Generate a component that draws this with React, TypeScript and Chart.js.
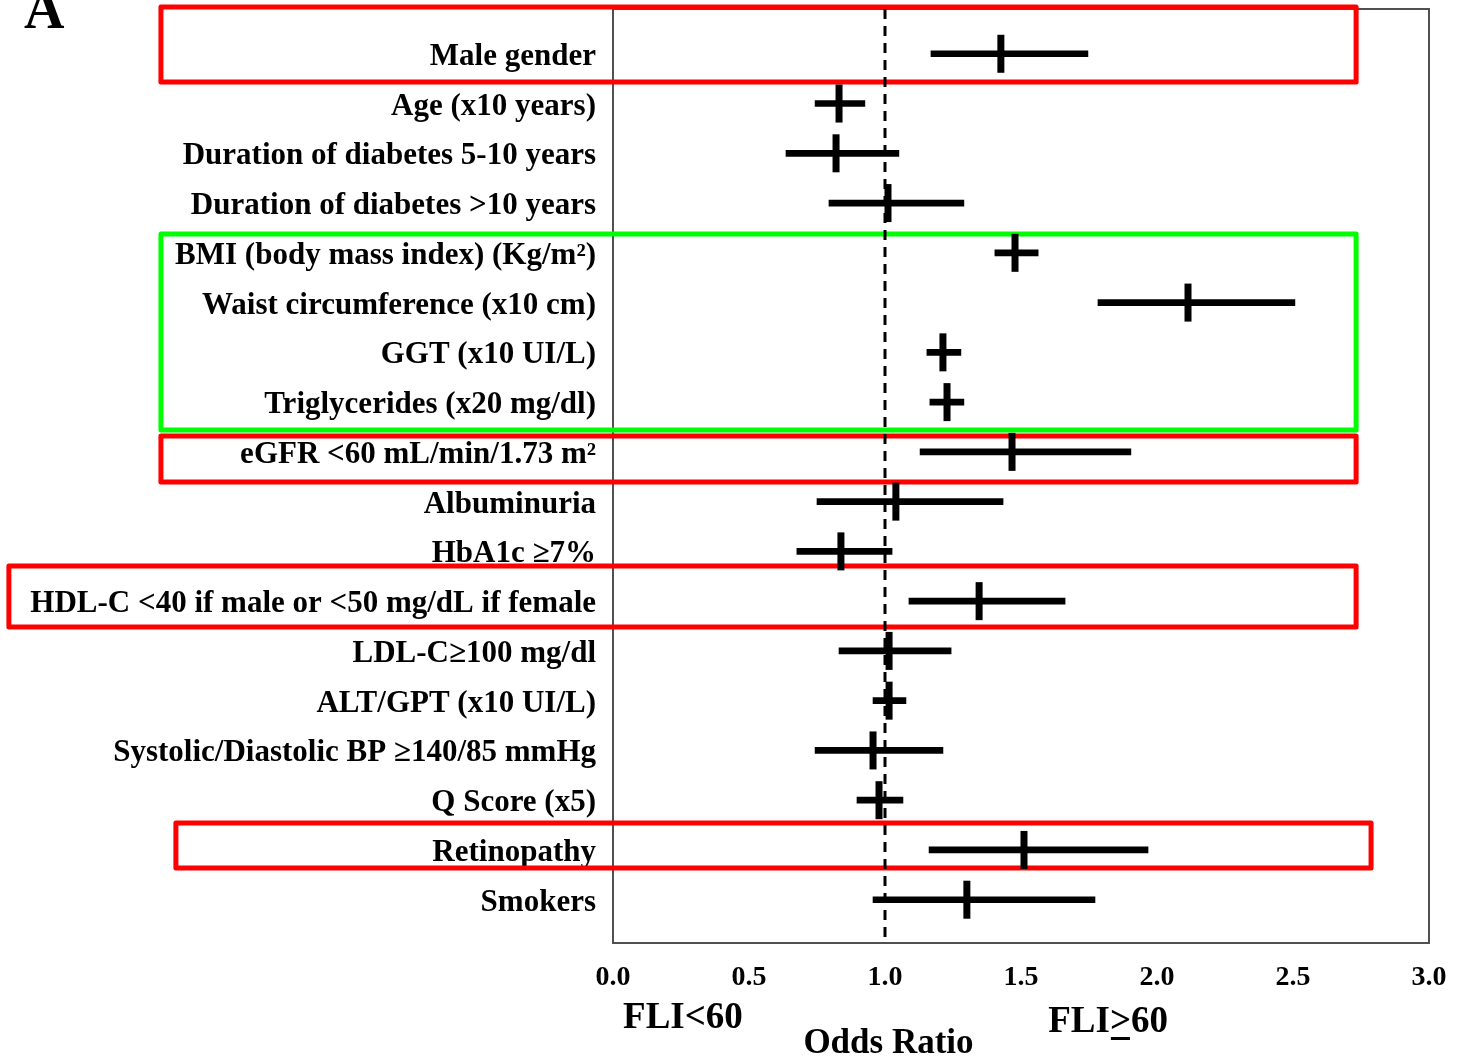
import React, { useEffect, useRef } from 'react';
import { Chart, registerables } from 'chart.js';

Chart.register(...registerables);

// ---- Data ----
const factorLabels = [
  'Male gender',
  'Age (x10 years)',
  'Duration of diabetes 5-10 years',
  'Duration of diabetes >10 years',
  'BMI (body mass index) (Kg/m²)',
  'Waist circumference (x10 cm)',
  'GGT (x10 UI/L)',
  'Triglycerides (x20 mg/dl)',
  'eGFR <60 mL/min/1.73 m²',
  'Albuminuria',
  'HbA1c ≥7%',
  'HDL-C <40 if male or <50 mg/dL if female',
  'LDL-C≥100 mg/dl',
  'ALT/GPT (x10 UI/L)',
  'Systolic/Diastolic BP ≥140/85 mmHg',
  'Q Score (x5)',
  'Retinopathy',
  'Smokers',
];

const oddsRatio = [1.426, 0.831, 0.82, 1.011, 1.478, 2.114, 1.213, 1.228, 1.467, 1.04, 0.838, 1.346, 1.015, 1.015, 0.956, 0.978, 1.511, 1.301];
const ciLower = [1.169, 0.743, 0.636, 0.794, 1.404, 1.783, 1.154, 1.165, 1.129, 0.75, 0.676, 1.088, 0.831, 0.956, 0.743, 0.897, 1.162, 0.956];
const ciUpper = [1.746, 0.926, 1.051, 1.29, 1.563, 2.507, 1.279, 1.29, 1.904, 1.434, 1.026, 1.662, 1.243, 1.077, 1.213, 1.066, 1.967, 1.772];

const xTickValues = [0, 0.5, 1, 1.5, 2, 2.5, 3];
const referenceOR = 1.0;

// Highlight boxes (in scale units: x = odds ratio scale, rows = factor index)
const highlights = [
  { color: '#ff0000', x0: -1.662, x1: 2.732, r0: -0.94, r1: 0.567 },
  { color: '#00ff00', x0: -1.662, x1: 2.732, r0: 3.621, r1: 7.56 },
  { color: '#ff0000', x0: -1.662, x1: 2.732, r0: 7.681, r1: 8.606 },
  { color: '#ff0000', x0: -2.221, x1: 2.732, r0: 10.293, r1: 11.519 },
  { color: '#ff0000', x0: -1.607, x1: 2.787, r0: 15.459, r1: 16.363 },
];

const SERIF = "'Liberation Serif', 'Times New Roman', serif";

const overlayPlugin = {
  id: 'overlay',
  beforeDatasetsDraw(chart: any) {
    const { ctx, chartArea: a } = chart;
    const xs = chart.scales.x;
    const ys = chart.scales.y;
    ctx.save();
    // plot frame
    ctx.strokeStyle = '#505050';
    ctx.lineWidth = 2;
    ctx.strokeRect(a.left, a.top, a.right - a.left, a.bottom - a.top);
    // highlight boxes
    ctx.lineWidth = 5;
    ctx.lineJoin = 'round';
    for (const b of highlights) {
      const px0 = xs.getPixelForValue(b.x0);
      const px1 = xs.getPixelForValue(b.x1);
      const py0 = ys.getPixelForValue(b.r0);
      const py1 = ys.getPixelForValue(b.r1);
      ctx.strokeStyle = b.color;
      ctx.strokeRect(px0, py0, px1 - px0, py1 - py0);
    }
    // reference line at OR = 1
    const xr = xs.getPixelForValue(referenceOR);
    ctx.strokeStyle = '#000';
    ctx.lineWidth = 3;
    ctx.setLineDash([10, 7]);
    ctx.beginPath();
    ctx.moveTo(xr, a.top);
    ctx.lineTo(xr, a.bottom);
    ctx.stroke();
    ctx.restore();
  },
  afterDraw(chart: any) {
    const { ctx, chartArea: a } = chart;
    const xs = chart.scales.x;
    ctx.save();
    ctx.fillStyle = '#000';
    ctx.textAlign = 'left';
    ctx.textBaseline = 'alphabetic';
    // panel letter
    ctx.font = `bold 56px ${SERIF}`;
    ctx.fillText('A', 24, 28);
    // direction labels
    ctx.font = `bold 37px ${SERIF}`;
    ctx.fillText('FLI<60', xs.getPixelForValue(0.037), a.bottom + 85);
    const gx = xs.getPixelForValue(1.6);
    const gy = a.bottom + 89;
    ctx.fillText('FLI>60', gx, gy);
    const wPre = ctx.measureText('FLI').width;
    const wGt = ctx.measureText('>').width;
    ctx.fillRect(gx + wPre + 1, gy + 5, wGt - 2, 3);
    // axis title
    ctx.font = `bold 35px ${SERIF}`;
    ctx.fillText('Odds Ratio', xs.getPixelForValue(0.7), a.bottom + 110);
    ctx.restore();
  },
};

export default function App() {
  const canvasRef = useRef<HTMLCanvasElement | null>(null);

  useEffect(() => {
    document.body.style.margin = '0';
    const canvas = canvasRef.current;
    if (!canvas) return;
    const rows = factorLabels.map((_, i) => i);
    const chart = new Chart(canvas, {
      type: 'bar',
      data: {
        datasets: [
          {
            type: 'scatter',
            data: rows.map((i) => ({ x: oddsRatio[i], y: i })),
            pointStyle: 'line',
            rotation: 90,
            radius: 19,
            hoverRadius: 19,
            borderWidth: 7,
            hoverBorderWidth: 7,
            borderColor: '#000',
            backgroundColor: '#000',
            order: 0,
          } as any,
          {
            type: 'bar',
            indexAxis: 'y',
            data: rows.map((i) => ({ x: [ciLower[i], ciUpper[i]], y: i })),
            backgroundColor: '#000',
            borderWidth: 0,
            barThickness: 6,
            grouped: false,
            order: 1,
          } as any,
        ],
      },
      options: {
        animation: false,
        responsive: false,
        devicePixelRatio: 1,
        layout: { autoPadding: false, padding: { top: 9, right: 29, left: 0, bottom: 0 } },
        plugins: { legend: { display: false }, tooltip: { enabled: false } },
        scales: {
          x: {
            type: 'linear',
            position: 'bottom',
            offset: false,
            min: 0,
            max: 3,
            grid: { display: false, drawTicks: false, offset: false },
            border: { display: false },
            afterFit: (s: any) => {
              s.height = 115;
              s.paddingLeft = 0;
              s.paddingRight = 0;
            },
            afterBuildTicks: (s: any) => {
              s.ticks = xTickValues.map((v) => ({ value: v }));
            },
            ticks: {
              padding: 18,
              color: '#000',
              font: { family: SERIF, size: 28, weight: 'bold' },
              maxRotation: 0,
              autoSkip: false,
              callback: (v: any) => Number(v).toFixed(1),
            },
          },
          y: {
            type: 'linear',
            position: 'left',
            offset: false,
            reverse: true,
            min: -0.9,
            max: 17.87,
            grid: { display: false, drawTicks: false, offset: false },
            border: { display: false },
            afterFit: (s: any) => {
              s.width = 613;
              s.paddingTop = 0;
              s.paddingBottom = 0;
            },
            afterBuildTicks: (s: any) => {
              s.ticks = rows.map((i) => ({ value: i }));
            },
            ticks: {
              padding: 17,
              labelOffset: 3,
              color: '#000',
              autoSkip: false,
              font: { family: SERIF, size: 31, weight: 'bold' },
              callback: (v: any) => factorLabels[Number(v)] ?? '',
            },
          },
        },
      },
      plugins: [overlayPlugin],
    } as any);
    return () => chart.destroy();
  }, []);

  return (
    <div style={{ width: 1458, height: 1058, background: '#fff' }}>
      <canvas ref={canvasRef} width={1458} height={1058} style={{ display: 'block' }} />
    </div>
  );
}
